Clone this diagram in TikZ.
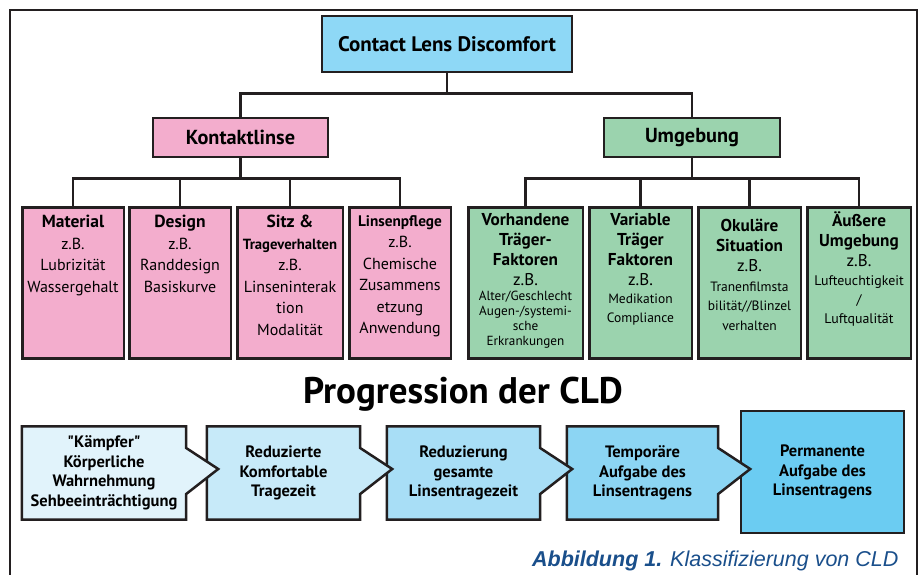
\documentclass[tikz,border=0pt]{standalone}
\usepackage{fontspec}
\setmainfont{PT Sans}[Ligatures=TeXOff]
\newfontfamily\capfont{Liberation Sans}
\usetikzlibrary{calc,backgrounds}

\definecolor{lc}{HTML}{231F20}
\definecolor{topc}{HTML}{8ED8F6}
\definecolor{pinkc}{HTML}{F3ADCD}
\definecolor{greenc}{HTML}{9BD3AE}
\definecolor{cha}{HTML}{E1F3FB}
\definecolor{chb}{HTML}{C7EAF9}
\definecolor{chc}{HTML}{A8DEF6}
\definecolor{chd}{HTML}{8CD5F3}
\definecolor{che}{HTML}{6BCCF2}
\definecolor{capc}{HTML}{1A4F8B}

\tikzset{
  box/.style={draw=lc, line width=2.5pt, inner sep=0pt, align=center},
  leaf/.style={box, anchor=north},
  link/.style={draw=lc, line width=2.5pt},
  chev/.style={draw=lc, line width=2.5pt},
  chtext/.style={inner sep=0pt, minimum height=93pt, align=center,
    font=\fontsize{16.5}{19.5}\selectfont\bfseries},
}
\newcommand{\leaftext}[3][8]{\parbox[c][151pt][t]{#2pt}{\centering\vspace*{#1pt}#3}}
\newcommand{\hd}{\fontsize{17.5}{21.5}\selectfont\bfseries}
\newcommand{\bd}{\fontsize{16}{21.5}\selectfont\mdseries}
\newcommand{\ghd}{\fontsize{17.2}{20}\selectfont\bfseries}
\newcommand{\gbd}{\fontsize{17}{20}\selectfont\mdseries}

\begin{document}
\begin{tikzpicture}[x=1pt,y=-1pt]
\useasboundingbox (0,0) rectangle (922,574);
\draw[lc, line width=2pt] (10,590) -- (10,10) -- (917,10) -- (917,590);

\node[box, fill=topc, minimum width=250, minimum height=56,
  font=\fontsize{21}{24}\selectfont\bfseries] (ct) at (447,44) {Contact Lens Discomfort};
\node[box, fill=pinkc, minimum width=175, minimum height=39,
  font=\fontsize{20.3}{22}\selectfont\bfseries] (k) at (240.5,137.5) {Kontaktlinse};
\node[box, fill=greenc, minimum width=176, minimum height=39,
  font=\fontsize{20.3}{22}\selectfont\bfseries] (u) at (692,137.5) {Umgebung};

% Kontaktlinse
\node[leaf, fill=pinkc] (p1) at (73,206) {\leaftext{101.5}{\hd Material\par
  \bd z.B.\\Lubrizität\\Wassergehalt}};
\node[leaf, fill=pinkc] (p2) at (180,206) {\leaftext{101.5}{\hd Design\par
  \bd z.B.\\Randdesign\\Basiskurve}};
\node[leaf, fill=pinkc] (p3) at (290,206) {\leaftext{105.5}{\hd Sitz \&\par
  {\fontsize{14.7}{21.5}\selectfont\bfseries Trageverhalten\par}
  \bd z.B.\\Linseninterak\\tion\\Modalität}};
\node[leaf, fill=pinkc] (p4) at (400,206) {\leaftext{101.5}{{\fontsize{15.3}{21.5}\selectfont\bfseries Linsenpflege\par}
  \bd z.B.\\Chemische\\Zusammens\\etzung\\Anwendung}};

% Umgebung
\node[leaf, fill=greenc] (g1) at (525.5,206) {\leaftext[6]{114.5}{\ghd Vorhandene\\Träger-\\Faktoren\par
  \gbd z.B.\par
  \fontsize{13.2}{15}\selectfont Alter/Geschlecht\\Augen-/systemi-\\sche\\Erkrankungen}};
\node[leaf, fill=greenc] (g2) at (640.5,206) {\leaftext[6]{102.5}{\ghd Variable\\Träger\\Faktoren\par
  \gbd z.B.\par
  \fontsize{13.5}{18.5}\selectfont Medikation\\Compliance}};
\node[leaf, fill=greenc] (g3) at (749.5,206) {\leaftext[12]{102.5}{\ghd Okuläre\\Situation\par
  \gbd z.B.\par
  \fontsize{13.5}{19.5}\selectfont Tranenfilmsta\\bilität//Blinzel\\verhalten}};
\node[leaf, fill=greenc] (g4) at (859,206) {\leaftext[5]{103.5}{\ghd Äußere\\Umgebung\par
  \gbd z.B.\par
  \fontsize{13.9}{19}\selectfont Lufteuchtigkeit\\/\\Luftqualität}};

\draw[link] (ct.south) -- ++(0,20) -| (k.north);
\draw[link] (ct.south) -- ++(0,20) -| (u.north);
\foreach \n in {p1,p2,p3,p4}
  \draw[link] (k.south) -- ++(0,20) -| (\n.north);
\foreach \n in {g1,g2,g3,g4}
  \draw[link] (u.south) -- ++(0,20) -| (\n.north);

\node[anchor=base, font=\fontsize{37}{42}\selectfont\bfseries] (title) at (463,403) {Progression der CLD};

% progression
\node[chtext, minimum width=164] (ch1) at (104,473) {"Kämpfer"\\Körperliche\\Wahrnehmung\\Sehbeeinträchtigung};
\node[chtext, minimum width=153] (ch2) at (283.5,473) {Reduzierte\\Komfortable\\Tragezeit};
\node[chtext, minimum width=153] (ch3) at (463.5,473) {Reduzierung\\gesamte\\Linsentragezeit};
\node[chtext, minimum width=151] (ch4) at (642.5,473) {Temporäre\\Aufgabe des\\Linsentragens};
\node[chtext, minimum width=163, minimum height=122] (ch5) at (822.5,472) {Permanente\\Aufgabe des\\Linsentragens};

\begin{scope}[on background layer]
\filldraw[chev, fill=che] (ch5.north west) rectangle (ch5.south east);
\foreach \i/\c in {4/chd,3/chc,2/chb,1/cha}
  \filldraw[chev, fill=\c] (ch\i.north west) -- (ch\i.north east) -- ($(ch\i.east)+(0,-25)$)
    -- ($(ch\i.east)+(32,-4)$) -- ($(ch\i.east)+(0,21)$) -- (ch\i.south east) -- (ch\i.south west) -- cycle;
\end{scope}

\node[anchor=base east, text=capc, font=\capfont\fontsize{21.5}{24}\selectfont] (cap) at (902,566)
  {{\bfseries\itshape Abbildung 1.} {\itshape Klassifizierung von CLD}};
\end{tikzpicture}
\end{document}
